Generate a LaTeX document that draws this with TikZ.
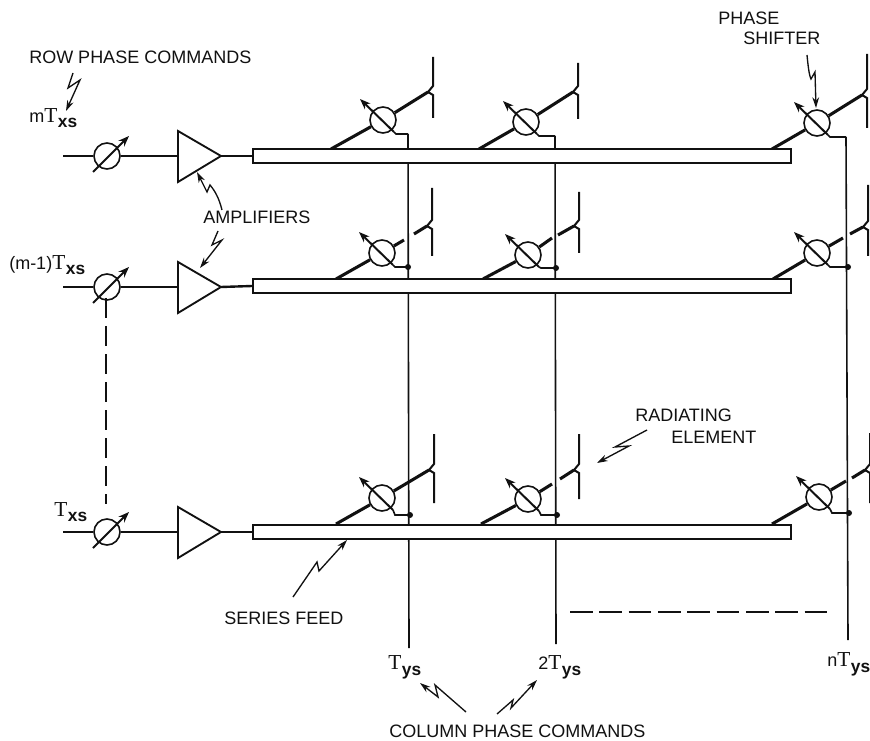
\documentclass[tikz,border=0pt]{standalone}
\usepackage{fontspec}
\setmainfont{Liberation Sans}
\newfontfamily\Tfont{Liberation Serif}
\usetikzlibrary{arrows.meta}
\definecolor{ink}{HTML}{111111}
\newcommand{\Tsym}[1]{{\Tfont\fontsize{16}{16}\selectfont T}\kern0.5pt\raisebox{-0.32em}{\bfseries\fontsize{13}{13}\selectfont #1}}
\tikzset{
  lab/.style={anchor=west,inner sep=0pt,font=\fontsize{13.5}{16}\selectfont,text=ink},
  fine/.style={draw=ink,line width=1.2pt},
  wire/.style={draw=ink,line width=1.8pt},
  branch/.style={draw=ink,line width=2.3pt},
  elem/.style={draw=ink,line width=1.5pt,line join=miter},
  shiftc/.style={circle,draw=ink,fill=white,line width=1.2pt,minimum size=19.5pt,inner sep=0pt},
  feedbar/.style={rectangle,draw=ink,fill=white,line width=1.4pt,minimum width=403.5pt,minimum height=10.2pt,anchor=west,inner sep=0pt},
  tipped/.style={draw=ink,line width=1.5pt,-{Stealth[length=8pt,width=6pt]}},
  bolt/.style={draw=ink,line width=1pt,-{Stealth[length=8pt,width=5pt]},line join=miter},
  amp/.style={draw=ink,fill=white,line width=1.4pt,line join=miter},
  jdot/.style={circle,fill=ink,inner sep=0pt,minimum size=4.5pt},
  dashv/.style={draw=ink,line width=1.5pt,dash pattern=on 15pt off 6pt},
  dashh/.style={draw=ink,line width=1.4pt,dash pattern=on 17pt off 5pt},
}
\begin{document}
\begin{tikzpicture}[x=0.75pt,y=-0.75pt]
\useasboundingbox[fill=white] (0,0) rectangle (870,741);
% radiating branches with phase shifters
\foreach \n/\cx/\cy/\fx/\fy/\gx/\gy/\rx/\ry/\ex/\et/\ek/\eb/\jx/\jy in {
 Aa/383/120/331/149/428/92/428/92/433/57/92/118/408/134,
 Ab/526/122/479/149/573/92/573/92/578/63/92/119/555/136,
 Ac/817/123/772/149/862/95/862/95/867/54/95/128/846/137,
 Ba/382/253/336/279/404/240/414/234/432/188/226/256/408/267,
 Bb/528/255/483/279/552/238/558/235/579/192/226/253/556/268,
 Bc/817/253/773/279/843/238/850/234/868/185/227/256/848/267,
 Ca/382/498/336/524/429/470/429/470/434/434/470/503/410/515,
 Cb/528/499/481/524/552/484/560/479/579/434/470/499/557/515,
 Cc/819/497/772/524/846/481/852/478/870/433/470/503/849/513}{
  \node[shiftc] (\n) at (\cx,\cy) {};
  \coordinate (\n f) at (\fx,\fy);
  \coordinate (\n g) at (\gx,\gy);
  \coordinate (\n r) at (\rx,\ry);
  \coordinate (\n k) at (\ex-5,\ek);
  \coordinate (\n t) at (\ex,\et);
  \coordinate (\n b) at (\ex,\eb);
  \coordinate (\n u) at (\ex,\ek-6);
  \coordinate (\n l) at (\ex,\ek+3);
  \coordinate (\n j) at (\jx,\jy);
  \coordinate (\n c) at (\cx+13,\jy);
  \coordinate (\n a) at (\cx+11,\cy+12);
  \coordinate (\n e) at (\cx-23,\cy-21);
  \draw[branch] (\n f) -- (\n);
  \draw[branch] (\n) -- (\n g);
  \draw[branch] (\n r) -- (\n k);
  \draw[elem] (\n t) -- (\n u) -- (\n k) -- (\n l) -- (\n b);
  \draw[tipped] (\n a) -- (\n e);
  \draw[fine] (\n a) -- (\n c) -- (\n j);
}
% column lines
\coordinate (colAend) at (409,648);
\coordinate (colBend) at (556,644);
\coordinate (colCend) at (848,640);
\draw[fine] (Aaj) -- (colAend);
\draw[fine] (Abj) -- (colBend);
\draw[fine] (Acj) -- (colCend);
% feeds
\node[feedbar] (feedA) at (252,156) {};
\node[feedbar] (feedB) at (252,286) {};
\node[feedbar] (feedC) at (252,532) {};
% junction dots
\foreach \d in {Ba,Bb,Bc,Ca,Cb,Cc}{ \node[jdot] (dot\d) at (\d j) {}; }
% row inputs
\foreach \n/\y in {A/156,B/287,C/532}{
  \coordinate (in\n) at (63,\y);
  \node[shiftc] (ps\n) at (107,\y) {};
  \coordinate (ampin\n) at (178,\y);
  \coordinate (ampout\n) at (221,\y);
  \coordinate (ampt\n) at (178,\y-25);
  \coordinate (ampb\n) at (178,\y+26);
  \coordinate (psa\n) at (93,\y+16);
  \coordinate (pse\n) at (129,\y-20);
  \draw[wire] (in\n) -- (ps\n);
  \draw[wire] (ps\n) -- (ampin\n);
  \draw[wire] (ampout\n) -- (feed\n.west);
  \draw[amp] (ampt\n) -- (ampout\n) -- (ampb\n) -- cycle;
  \draw[tipped] (psa\n) -- (pse\n);
}
% dashed continuations
\coordinate (dvt) at (106,298); \coordinate (dvb) at (106,504);
\draw[dashv] (dvt) -- (dvb);
\coordinate (dhl) at (570,612); \coordinate (dhr) at (832,612);
\draw[dashh] (dhl) -- (dhr);
% labels
\node[lab] (lrow) at (29,57) {ROW PHASE COMMANDS};
\node[lab] (lm) at (29,118) {m\Tsym{xs}};
\node[lab] (lm1) at (9,265) {(m-1)\Tsym{xs}};
\node[lab] (l1) at (54,512) {\Tsym{xs}};
\node[lab] (lamp) at (203,217) {AMPLIFIERS};
\node[lab] (lps1) at (718,18) {PHASE};
\node[lab] (lps2) at (743,38) {SHIFTER};
\node[lab] (lre1) at (635,415) {RADIATING};
\node[lab] (lre2) at (671,437) {ELEMENT};
\node[lab] (lsf) at (224,618) {SERIES FEED};
\node[lab] (ly1) at (388,667) {\Tsym{ys}};
\node[lab] (ly2) at (538,667) {2\Tsym{ys}};
\node[lab] (ly3) at (827,664) {n\Tsym{ys}};
\node[lab] (lcol) at (389,731) {COLUMN PHASE COMMANDS};
% bolts
\coordinate (b1) at (73,73); \coordinate (b1t) at (66,111);
\draw[bolt] (b1) -- (68,88) -- (80,80) -- (b1t);
\coordinate (b2) at (222,210); \coordinate (b2t) at (197,172);
\draw[bolt] (b2) .. controls (219,198) and (215,191) .. (210,185) -- (207,192) -- (b2t);
\coordinate (b3) at (218,231); \coordinate (b3t) at (200,268);
\draw[bolt] (b3) -- (212,245) -- (222,240) -- (b3t);
\coordinate (b4) at (807,55); \coordinate (b4t) at (816,108);
\draw[bolt] (b4) .. controls (808,65) and (809,75) .. (811,79) -- (815,72) -- (b4t);
\coordinate (b5) at (647,430); \coordinate (b5t) at (597,463);
\draw[bolt] (b5) -- (615,447) -- (629,446) -- (b5t);
\coordinate (b6) at (293,597); \coordinate (b6t) at (347,540);
\draw[bolt] (b6) -- (317,562) -- (319,571) -- (b6t);
\coordinate (b7) at (466,712); \coordinate (b7t) at (420,683);
\draw[bolt] (b7) -- (435,685) -- (438,697) -- (b7t);
\coordinate (b8) at (497,714); \coordinate (b8t) at (537,680);
\draw[bolt] (b8) -- (513,700) -- (511,708) -- (b8t);
\end{tikzpicture}
\end{document}
